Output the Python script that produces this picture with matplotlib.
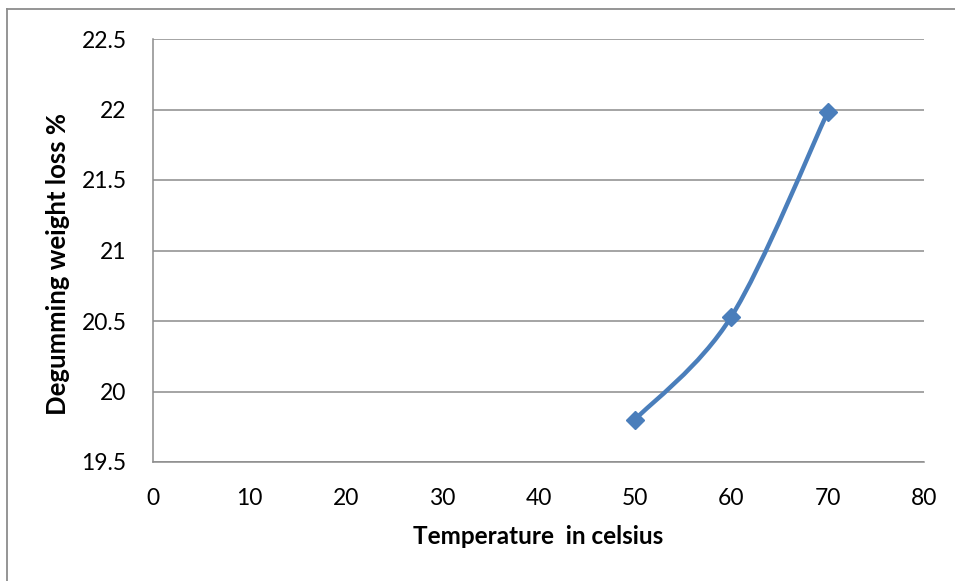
import matplotlib
matplotlib.use("Agg")
import matplotlib.pyplot as plt
from matplotlib.path import Path
from matplotlib.patches import PathPatch
from matplotlib.lines import Line2D
import numpy as np

temperature = [50, 60, 70]
weight_loss = [19.8, 20.53, 21.98]
x_ticks = [0, 10, 20, 30, 40, 50, 60, 70, 80]
y_ticks = [19.5, 20, 20.5, 21, 21.5, 22, 22.5]
x_label = "Temperature  in celsius"
y_label = "Degumming weight loss %"

plt.rcParams['font.family'] = ['Lato', 'DejaVu Sans']

W, H = 955, 581
fig = plt.figure(figsize=(W / 100, H / 100), dpi=100)
ax = fig.add_axes([153 / W, 1 - 462 / H, (924 - 153) / W, (462 - 39) / H])

line_color = '#4A7EBB'
grid_color = '#8C8C8C'

# Excel-like smoothed line via cubic Bezier segments
pts = np.column_stack([temperature, weight_loss]).astype(float)
n = len(pts)
verts = [tuple(pts[0])]
codes = [Path.MOVETO]
for i in range(n - 1):
    p0 = pts[i - 1] if i > 0 else pts[i]
    p1 = pts[i]
    p2 = pts[i + 1]
    p3 = pts[i + 2] if i + 2 < n else pts[i + 1]
    c1 = p1 + (p2 - p0) / 6.0
    c2 = p2 - (p3 - p1) / 6.0
    verts += [tuple(c1), tuple(c2), tuple(p2)]
    codes += [Path.CURVE4] * 3
path = Path(verts, codes)
ax.add_patch(PathPatch(path, facecolor='none', edgecolor=line_color, lw=3.2,
                       capstyle='round', joinstyle='round', zorder=3))
ax.plot(temperature, weight_loss, linestyle='none', marker='D', markersize=9,
        color=line_color, zorder=4)

ax.set_xlim(0, 80)
ax.set_ylim(19.5, 22.5)
ax.set_xticks(x_ticks)
ax.set_yticks(y_ticks)
ax.set_xticklabels([str(v) for v in x_ticks])
ax.set_yticklabels([f"{v:g}" for v in y_ticks])
ax.tick_params(axis='both', length=0, labelsize=16.5, colors='black')
ax.tick_params(axis='x', pad=19)
ax.tick_params(axis='y', pad=19)

ax.grid(axis='y', color=grid_color, lw=1.1)
ax.grid(axis='x', visible=False)
ax.set_axisbelow(True)
for side in ['top', 'right']:
    ax.spines[side].set_visible(False)
for side in ['left', 'bottom']:
    ax.spines[side].set_color(grid_color)
    ax.spines[side].set_linewidth(1.1)

fig.text(538 / W, 1 - 537 / H, x_label, ha='center', va='center',
         fontsize=17.5, fontweight='bold')
fig.text(58 / W, 1 - 264 / H, y_label, ha='center', va='center',
         rotation=90, fontsize=18.5, fontweight='bold')

# outer chart frame
fig.add_artist(Line2D([7 / W, 7 / W], [0, 1 - 9 / H], transform=fig.transFigure,
                      color='#8C8C8C', lw=1.3))
fig.add_artist(Line2D([7 / W, 1], [1 - 9 / H, 1 - 9 / H], transform=fig.transFigure,
                      color='#8C8C8C', lw=1.3))

fig.savefig("out.png", dpi=100)
